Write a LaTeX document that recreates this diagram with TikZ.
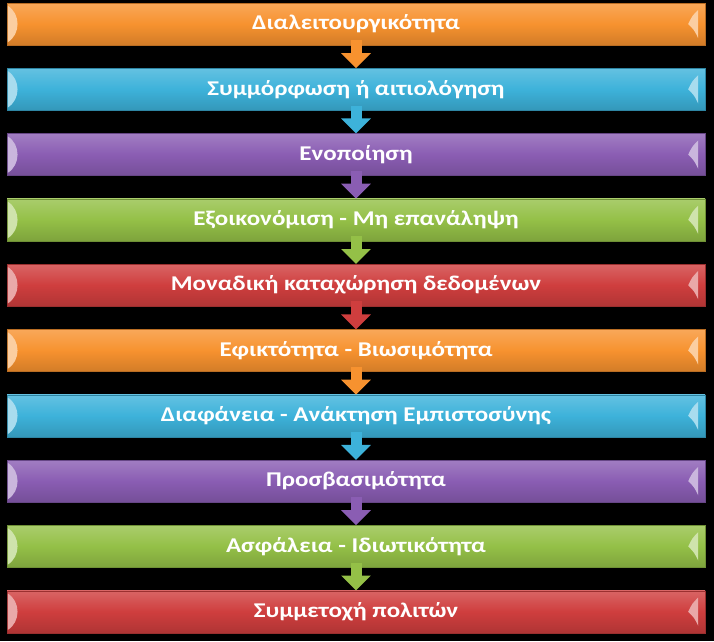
\documentclass[tikz,border=0pt]{standalone}
\usepackage{fontspec}
\usepackage{graphicx}
\setmainfont{Carlito}
\usetikzlibrary{arrows.meta}

\definecolor{corange}{HTML}{F7922F}
\definecolor{ccyan}{HTML}{3DB2DA}
\definecolor{cpurple}{HTML}{8A5DB3}
\definecolor{cgreen}{HTML}{94C047}
\definecolor{cred}{HTML}{CF3E3E}
\newcommand\widetext[1]{\scalebox{1.19}[1]{#1}}

\begin{document}
\begin{tikzpicture}[x=1pt,y=-1pt]
  \tikzset{bar/.style = {shape=rectangle,minimum width=698pt,minimum height=42pt,inner sep=0pt,text=white,font=\bfseries\fontsize{21}{24}\selectfont}}
  \tikzset{edge/.style = {line width=11pt,-{Triangle[width=29pt,length=15pt]}}}

	\fill[black] (0,0) rectangle (714,641);

    \foreach \i/\c/\t in {1/corange/Διαλειτουργικότητα,2/ccyan/Συμμόρφωση ή αιτιολόγηση,3/cpurple/Ενοποίηση,4/cgreen/Εξοικονόμιση - Μη επανάληψη,5/cred/Μοναδική καταχώρηση δεδομένων,6/corange/Εφικτότητα - Βιωσιμότητα,7/ccyan/Διαφάνεια - Ανάκτηση Εμπιστοσύνης,8/cpurple/Προσβασιμότητα,9/cgreen/Ασφάλεια - Ιδιωτικότητα,10/cred/Συμμετοχή πολιτών}
    {
    \node[bar,draw=\c!75!black,top color=\c!80!white,bottom color=\c!85!black,middle color=\c] (B\i) at (356,{24+(\i-1)*65.3}) {\widetext{\t}};
    \fill[\c!45!white] ([xshift=1pt,yshift=-3pt]B\i.north west) .. controls +(13,8) and +(13,-8) .. ([xshift=1pt,yshift=3pt]B\i.south west) -- cycle;
    \fill[\c!45!white] ([xshift=-7pt,yshift=-7pt]B\i.north east) .. controls +(-6,6) .. ([xshift=-17pt]B\i.east) .. controls +(6,6) .. ([xshift=-7pt,yshift=7pt]B\i.south east) -- cycle;
    }

    \foreach \from/\to/\c in {1/2/corange,2/3/ccyan,3/4/cpurple,4/5/cgreen,5/6/cred,6/7/corange,7/8/ccyan,8/9/cpurple,9/10/cgreen}
    \draw[edge,\c] ([yshift=5pt]B\from.south) -- (B\to.north);

\end{tikzpicture}
\end{document}
